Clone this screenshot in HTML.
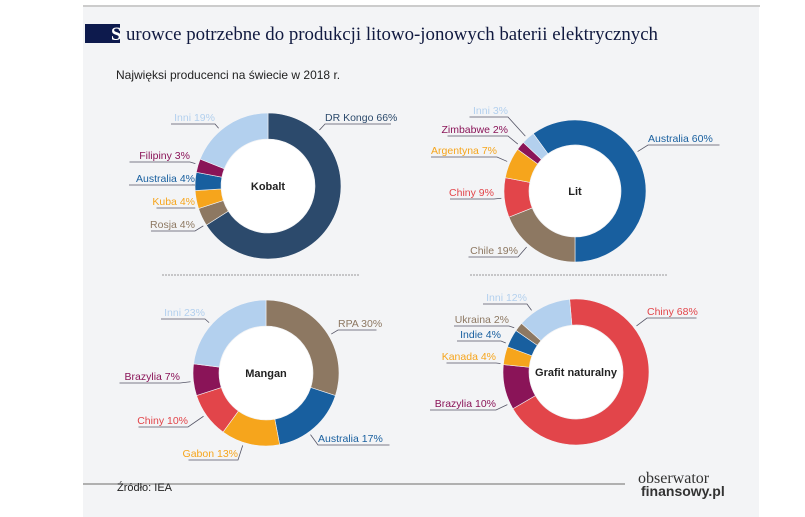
<!DOCTYPE html>
<html><head><meta charset="utf-8"><style>
body{margin:0;width:805px;height:517px;background:#fff;overflow:hidden;font-family:"Liberation Sans",sans-serif}
svg{display:block}
</style></head><body>
<svg width="805" height="517">
<rect x="83" y="7" width="676" height="510" fill="#f3f4f6"/>
<line x1="83" y1="6" x2="760" y2="6" stroke="#bbb" stroke-width="1.5"/>
<rect x="85" y="24" width="35" height="19" fill="#0d1a4d"/>
<text x="111" y="40" font-family="Liberation Serif,serif" font-size="19" font-weight="bold" fill="#fff">S</text>
<text x="126" y="40" font-family="Liberation Serif,serif" font-size="19" fill="#111a40" textLength="532" lengthAdjust="spacingAndGlyphs">urowce potrzebne do produkcji litowo-jonowych baterii elektrycznych</text>
<text x="116" y="79" font-size="12" fill="#222">Najwięksi producenci na świecie w 2018 r.</text>
<line x1="162" y1="275" x2="360" y2="275" stroke="#999" stroke-dasharray="2,1"/>
<line x1="470" y1="275" x2="668" y2="275" stroke="#999" stroke-dasharray="2,1"/>
<line x1="83" y1="484" x2="625" y2="484" stroke="#999" stroke-width="1.5"/>
<text x="117" y="491" font-size="11" fill="#222">Źródło: IEA</text>
<text x="638" y="483" font-family="Liberation Serif,serif" font-size="16" fill="#333">obserwator</text>
<text x="641" y="496" font-size="14" font-weight="bold" fill="#333">finansowy.pl</text>
<g id="charts"></g>
</svg>
<script>
const kobaltLabels=["DR Kongo","Rosja","Kuba","Australia","Filipiny","Inni"];
const kobaltValues=[66,4,4,4,3,19];
const litLabels=["Australia","Chile","Chiny","Argentyna","Zimbabwe","Inni"];
const litValues=[60,19,9,7,2,3];
const manganLabels=["RPA","Australia","Gabon","Chiny","Brazylia","Inni"];
const manganValues=[30,17,13,10,7,23];
const grafitLabels=["Chiny","Brazylia","Kanada","Indie","Ukraina","Inni"];
const grafitValues=[68,10,4,4,2,12];
const C={navy:"#2c4a6c",lb:"#b3d0ee",pur:"#8a1458",blue:"#185f9f",or:"#f6a51c",br:"#8d7862",red:"#e2454a"};
const charts=[
 {name:"kobalt",title:"Kobalt",cx:268,cy:186,r:73,ri:47,start:0,labels:kobaltLabels,values:kobaltValues,
  colors:[C.navy,C.br,C.or,C.blue,C.pur,C.lb],
  pos:[[325,121,"start"],[195,228,"end"],[195,205,"end"],[195,182,"end"],[190,159,"end"],[215,121,"end"]]},
 {name:"lit",title:"Lit",cx:575,cy:191,r:71,ri:46,start:-36,labels:litLabels,values:litValues,
  colors:[C.blue,C.br,C.red,C.or,C.pur,C.lb],
  pos:[[648,142,"start"],[518,254,"end"],[494,196,"end"],[497,154,"end"],[508,133,"end"],[508,114,"end"]]},
 {name:"mangan",title:"Mangan",cx:266,cy:373,r:73,ri:47,start:0,labels:manganLabels,values:manganValues,
  colors:[C.br,C.blue,C.or,C.red,C.pur,C.lb],
  pos:[[338,327,"start"],[318,442,"start"],[238,457,"end"],[188,424,"end"],[180,380,"end"],[205,316,"end"]]},
 {name:"grafit",title:"Grafit naturalny",cx:576,cy:372,r:73,ri:47,start:-5,labels:grafitLabels,values:grafitValues,
  colors:[C.red,C.pur,C.or,C.blue,C.br,C.lb],
  pos:[[647,315,"start"],[496,407,"end"],[496,360,"end"],[501,338,"end"],[509,323,"end"],[527,301,"end"]]}
];
const NS="http://www.w3.org/2000/svg";
const root=document.getElementById("charts");
function pt(cx,cy,r,a){const t=(a-90)*Math.PI/180;return[cx+r*Math.cos(t),cy+r*Math.sin(t)];}
function mk(tag,at){const e=document.createElementNS(NS,tag);for(const k in at)e.setAttribute(k,at[k]);return e;}
charts.forEach(ch=>{
 const g=mk("g",{});
 
 
 const tot=ch.values.reduce((a,b)=>a+b,0);
 let a=ch.start;
 ch.values.forEach((v,i)=>{
  const a2=a+v/tot*360,lg=(a2-a)>180?1:0;
  const p1=pt(ch.cx,ch.cy,ch.r,a),p2=pt(ch.cx,ch.cy,ch.r,a2),p3=pt(ch.cx,ch.cy,ch.ri,a2),p4=pt(ch.cx,ch.cy,ch.ri,a);
  const p=mk("path",{d:`M${p1}A${ch.r},${ch.r} 0 ${lg} 1 ${p2}L${p3}A${ch.ri},${ch.ri} 0 ${lg} 0 ${p4}Z`,fill:ch.colors[i],stroke:"#f3f4f6","stroke-width":0.6});
  
  
  g.appendChild(p);
  const [lx,ly,an]=ch.pos[i];
  const txt=ch.labels[i]+" "+ch.values[i]+"%";
  const w=txt.length*5.5;
  const far=an==="end"?lx-w:lx+w, near=lx;
  // leader target: outer-ring point facing the label, clamped inside the slice
  let ang=Math.atan2(near-ch.cx,-(ly+3-ch.cy))*180/Math.PI;
  while(ang<a)ang+=360; while(ang>a+360)ang-=360;
  if(ang>a2){ang=(ang-a2<a+360-ang)?a2-1:a+1;}
  const tgt=pt(ch.cx,ch.cy,ch.r+3,ang);
  const ln=mk("polyline",{points:`${far},${ly+3} ${near},${ly+3} ${tgt[0]},${tgt[1]}`,fill:"none",stroke:"#556","stroke-width":0.8});
  g.appendChild(ln);
  const t=mk("text",{x:lx,y:ly,"text-anchor":an,"font-size":10.5,fill:ch.colors[i]});
  
  
  t.textContent=txt;g.appendChild(t);
  a=a2;
 });
 const c=mk("circle",{cx:ch.cx,cy:ch.cy,r:ch.ri-0.5,fill:"#fff"});g.appendChild(c);
 const t=mk("text",{x:ch.cx,y:ch.cy+4,"text-anchor":"middle","font-size":11,"font-weight":"bold",fill:"#222"});
 
 
 t.textContent=ch.title;g.appendChild(t);
 root.appendChild(g);
});
</script>
</body></html>
